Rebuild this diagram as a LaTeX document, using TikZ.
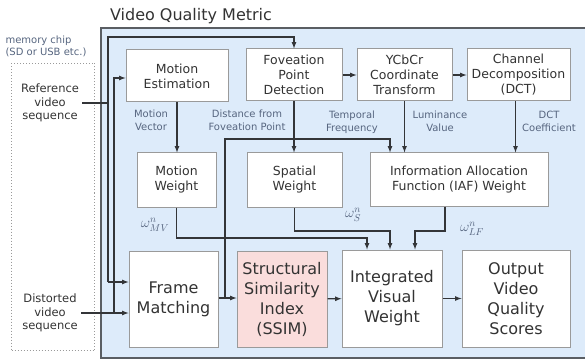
\documentclass[tikz,border=0pt]{standalone}
\usepackage{fontspec}
\setmainfont{DejaVu Sans}
\usepackage{tikz}
\usetikzlibrary{arrows}
\definecolor{panelblue}{HTML}{DDEBFA}
\definecolor{panelgray}{HTML}{5A5E63}
\definecolor{boxgray}{HTML}{9A9A9A}
\definecolor{txtgray}{HTML}{333333}
\definecolor{lblblue}{HTML}{56657F}
\definecolor{wiregray}{HTML}{333538}
\definecolor{ssimpink}{HTML}{FADDDC}

\begin{document}
\begin{tikzpicture}[x=1pt, y=-1pt,
            box/.style={draw=boxgray, fill=white, line width=1pt, align=center, text=txtgray, inner sep=0pt}, % white blocks
            small/.style={box, font=\fontsize{12.5}{15}\selectfont}, % upper blocks
            big/.style={box, font=\fontsize{16}{20}\selectfont}, % lower blocks
            lbl/.style={align=center, text=lblblue, font=\fontsize{10}{13}\selectfont}, % signal names
            wlbl/.style={text=lblblue, font=\fontsize{14}{14}\selectfont}, % weight symbols
            wire/.style={draw=wiregray, line width=1.2pt},
            flow/.style={wire, -latex}
            ]
        \useasboundingbox (0,0) rectangle (585,363);
        \clip (0,0) rectangle (585,363);

            % memory chip and the blue metric panel
            \node[text=lblblue, align=left, anchor=west, font=\fontsize{10}{12}\selectfont] (chiplbl) at (2,46) {memory chip\\(SD or USB etc.)};
            \node[draw=boxgray, dotted, line width=1pt, minimum width=83, minimum height=287] (chip) at (53,207) {};
            \draw[fill=panelblue, draw=panelgray, line width=2.5pt] (101,28) rectangle (595,358);
            \node[text=txtgray, font=\fontsize{16}{18}\selectfont] (title) at (191,16) {Video Quality Metric};

            \node[text=txtgray, align=center, font=\fontsize{11.5}{13.5}\selectfont] (ref) at (50,103) {Reference\\video\\sequence};
            \node[text=txtgray, align=center, font=\fontsize{11.5}{13.5}\selectfont] (dist) at (50,313) {Distorted\\video\\sequence};

            % blocks
            \node[small, minimum width=102, minimum height=52] (me) at (177,76) {Motion\\Estimation};
            \node[small, minimum width=96, minimum height=52] (fpd) at (294,75) {Foveation\\Point\\Detection};
            \node[small, minimum width=95, minimum height=52] (ycc) at (404.5,75) {YCbCr\\Coordinate\\Transform};
            \node[small, minimum width=103, minimum height=52] (cd) at (518.5,75) {Channel\\Decomposition\\(DCT)};
            \node[small, minimum width=79, minimum height=54] (mw) at (176.5,180) {Motion\\Weight};
            \node[small, minimum width=95, minimum height=54] (sw) at (294.5,180) {Spatial\\Weight};
            \node[small, minimum width=178, minimum height=53] (iaf) at (459,179.5) {Information Allocation\\Function (IAF) Weight};
            \node[big, minimum width=89, minimum height=96] (fm) at (173.5,299) {Frame\\Matching};
            \node[big, fill=ssimpink, minimum width=90, minimum height=96] (ssim) at (282,299) {Structural\\Similarity\\Index\\(SSIM)};
            \node[big, minimum width=100, minimum height=97] (ivw) at (392,298.5) {Integrated\\Visual\\Weight};
            \node[big, minimum width=108, minimum height=97] (out) at (516,298.5) {Output\\Video\\Quality\\Scores};

            % bends of the wires
            \coordinate (refbus) at (108,103);
            \coordinate (bustop) at (108,37);
            \coordinate (busfm) at (108,282);
            \coordinate (distbus) at (114,313);
            \coordinate (busme) at (114,78);
            \coordinate (tap) at (225,298);
            \coordinate (tftop) at (225,139);
            \coordinate (tfend) at (390,139);
            \coordinate (mwbend) at (367,238);
            \coordinate (swbend) at (390,231);
            \coordinate (iafbend) at (415,231);

            % input sequences
            \draw[wire] (ref.east) -- (ref.east -| refbus);
            \draw[flow] (busfm) -- (bustop) -| (fpd.north);
            \draw[flow] (busfm) -- (busfm -| fm.west);
            \draw[flow] (dist.east) -- (dist.east -| fm.west);
            \draw[flow] (distbus) -- (busme) -- (busme -| me.west);

            % upper chain
            \draw[flow] (fpd) -- (ycc);
            \draw[flow] (ycc) -- (cd);
            \draw[flow] (me.south) -- (me.south |- mw.north);
            \draw[flow] (fpd.south) -- (fpd.south |- sw.north);
            \draw[flow] (ycc.south) -- (ycc.south |- iaf.north);
            \draw[flow] ([xshift=-3pt]cd.south) -- ([xshift=-3pt]cd.south |- iaf.north);
            \draw[flow] (tap) -- (tftop) -| (tfend |- iaf.north);

            % weights into the integration
            \draw[flow] (mw.south) |- (mwbend) -- (mwbend |- ivw.north);
            \draw[flow] (sw.south) |- (swbend) -- (swbend |- ivw.north);
            \draw[flow] ([xshift=-14pt]iaf.south) |- (iafbend) -- (iafbend |- ivw.north);

            % lower chain
            \draw[flow] (fm.east |- tap) -- (ssim.west |- tap);
            \draw[flow] (ssim) -- (ivw);
            \draw[flow] (ivw) -- (out);

            % signal names
            \node[lbl] (mvlbl) at (151,120) {Motion\\Vector};
            \node[lbl] (dflbl) at (247,120) {Distance from\\Foveation Point};
            \node[lbl] (tflbl) at (352,122) {Temporal\\Frequency};
            \node[lbl] (lvlbl) at (440,121) {Luminance\\Value};
            \node[lbl] (dctlbl) at (549,121) {DCT\\Coefficient};
            \node[wlbl] (wmv) at (155,225) {$\omega^{n}_{MV}$};
            \node[wlbl] (ws) at (353,215) {$\omega^{n}_{S}$};
            \node[wlbl] (wlf) at (472,229) {$\omega^{n}_{LF}$};

\end{tikzpicture}
\end{document}
